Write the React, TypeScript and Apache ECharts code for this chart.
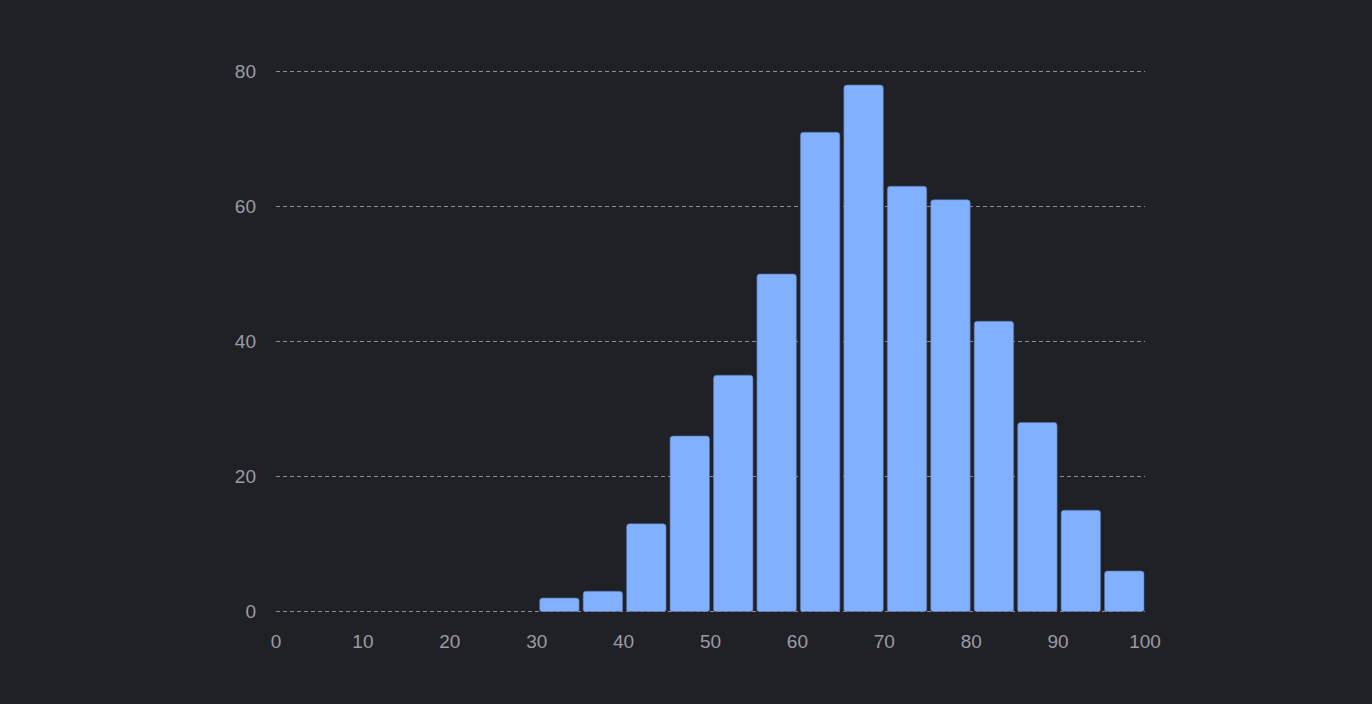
import React, { useEffect, useRef } from "react";
import * as echarts from "echarts";

const binStarts = [30, 35, 40, 45, 50, 55, 60, 65, 70, 75, 80, 85, 90, 95];
const binWidth = 5;
const counts = [2, 3, 13, 26, 35, 50, 71, 78, 63, 61, 43, 28, 15, 6];
const xTicks = [0, 10, 20, 30, 40, 50, 60, 70, 80, 90, 100];
const yTicks = [0, 20, 40, 60, 80];

export default function App() {
  const ref = useRef<HTMLDivElement>(null);
  useEffect(() => {
    document.body.style.margin = "0";
    document.body.style.background = "#202127";
    const chart = echarts.init(ref.current!, undefined, { renderer: "svg" });
    const data = binStarts.map((s, i) => [s, s + binWidth, counts[i]]);
    chart.setOption({
      animation: false,
      backgroundColor: "#202127",
      grid: { left: 276, right: 227, top: 71.5, bottom: 92.5 },
      xAxis: {
        type: "value",
        min: xTicks[0],
        max: xTicks[xTicks.length - 1],
        interval: 10,
        axisLine: { show: false },
        axisTick: { show: false },
        splitLine: { show: false },
        axisLabel: { color: "#9a9ca3", fontSize: 19, margin: 20, fontFamily: "Liberation Sans, Arial, sans-serif" },
      },
      yAxis: {
        type: "value",
        min: yTicks[0],
        max: yTicks[yTicks.length - 1],
        interval: 20,
        axisLine: { show: false },
        axisTick: { show: false },
        splitLine: { show: true, lineStyle: { color: "#8e8f94", type: [4, 3], width: 1 } },
        axisLabel: { color: "#9a9ca3", fontSize: 19, margin: 20, fontFamily: "Liberation Sans, Arial, sans-serif" },
      },
      series: [
        {
          type: "custom",
          data,
          encode: { x: [0, 1], y: 2 },
          renderItem: (params: any, api: any) => {
            const p0 = api.coord([api.value(0), 0]);
            const p1 = api.coord([api.value(1), api.value(2)]);
            const x = p0[0] + 3;
            const w = p1[0] - p0[0] - 4;
            return {
              type: "rect",
              shape: { x, y: p1[1], width: w, height: p0[1] - p1[1], r: [3, 3, 2, 2] },
              style: { fill: "#80b0ff", stroke: "#5a74a8", lineWidth: 0.6 },
            };
          },
        },
      ],
    });
    return () => chart.dispose();
  }, []);
  return <div ref={ref} style={{ width: 1372, height: 704 }} />;
}
